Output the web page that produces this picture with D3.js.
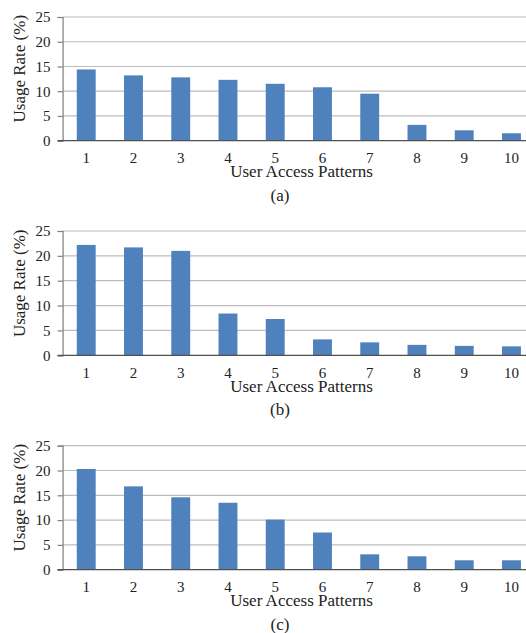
<!DOCTYPE html>
<html>
<head>
<meta charset="utf-8">
<script src="https://cdn.jsdelivr.net/npm/d3@7/dist/d3.min.js"></script>
<style>
  html, body { margin: 0; padding: 0; background: #fff; }
  svg { display: block; }
  text { font-family: "Liberation Serif", "Times New Roman", serif; fill: #222; }
</style>
</head>
<body>
<svg id="chart" width="526" height="633"></svg>
<script>
// Usage rate (%) of each user access pattern, one series per scenario
const categories = ["1", "2", "3", "4", "5", "6", "7", "8", "9", "10"];
const seriesA = [14.4, 13.2, 12.8, 12.3, 11.5, 10.8, 9.5, 3.2, 2.1, 1.5];
const seriesB = [22.2, 21.7, 21.0, 8.4, 7.3, 3.2, 2.6, 2.1, 1.9, 1.8];
const seriesC = [20.3, 16.8, 14.6, 13.5, 10.1, 7.5, 3.1, 2.7, 1.9, 1.9];
const yTicks = [0, 5, 10, 15, 20, 25];
const panelLabels = ["(a)", "(b)", "(c)"];
const xTitle = "User Access Patterns";
const yTitle = "Usage Rate (%)";

const panels = [
  { values: seriesA, label: panelLabels[0], top: 17.0, bottom: 140.7 },
  { values: seriesB, label: panelLabels[1], top: 231.0, bottom: 355.3 },
  { values: seriesC, label: panelLabels[2], top: 445.7, bottom: 569.7 }
];

const svg = d3.select("#chart");
const plotLeft = 62.6, plotRight = 535.1;

const x = d3.scaleBand()
  .domain(categories)
  .range([plotLeft, plotRight])
  .paddingInner(0.6)
  .paddingOuter(0.3);

panels.forEach(p => {
  const y = d3.scaleLinear().domain([0, 25]).range([p.bottom, p.top]);
  const g = svg.append("g");

  // horizontal gridlines
  g.append("g").selectAll("line")
    .data(yTicks.filter(t => t > 0))
    .join("line")
    .attr("x1", plotLeft).attr("x2", plotRight)
    .attr("y1", d => y(d)).attr("y2", d => y(d))
    .attr("stroke", "#bcbcbc").attr("stroke-width", 1.2);

  // bars
  g.append("g").selectAll("rect")
    .data(p.values)
    .join("rect")
    .attr("x", (d, i) => x(categories[i]))
    .attr("width", x.bandwidth())
    .attr("y", d => y(d))
    .attr("height", d => y(0) - y(d))
    .attr("fill", "#4f81bd");

  // y axis
  const yAxis = g.append("g")
    .attr("transform", `translate(${plotLeft},0)`)
    .call(d3.axisLeft(y).tickValues(yTicks).tickSize(5).tickPadding(7));
  yAxis.select(".domain").attr("stroke", "#7f7f7f").attr("stroke-width", 1.2);
  yAxis.selectAll(".tick line").attr("stroke", "#7f7f7f").attr("stroke-width", 1.2);
  yAxis.selectAll(".tick text")
    .style("font-family", "'Liberation Serif', serif")
    .style("font-size", "15px").attr("fill", "#222");

  // x axis (baseline) with category labels
  const xAxis = g.append("g")
    .attr("transform", `translate(0,${p.bottom})`)
    .call(d3.axisBottom(x).tickSize(0).tickPadding(12));
  xAxis.select(".domain").remove();
  xAxis.selectAll(".tick text")
    .style("font-family", "'Liberation Serif', serif")
    .style("font-size", "15px").attr("fill", "#222");
  g.append("line")
    .attr("x1", plotLeft - 5).attr("x2", plotRight)
    .attr("y1", p.bottom).attr("y2", p.bottom)
    .attr("stroke", "#505050").attr("stroke-width", 1.3);

  // axis titles
  g.append("text")
    .attr("x", 301.5).attr("y", p.bottom + 36.5)
    .attr("text-anchor", "middle")
    .style("font-size", "17px")
    .text(xTitle);
  g.append("text")
    .attr("transform", `translate(25,${p.bottom - 72}) rotate(-90)`)
    .attr("text-anchor", "middle")
    .style("font-size", "17px")
    .text(yTitle);

  // panel label
  g.append("text")
    .attr("x", 280).attr("y", p.bottom + 60)
    .attr("text-anchor", "middle")
    .style("font-size", "17px")
    .text(p.label);
});
</script>
</body>
</html>
